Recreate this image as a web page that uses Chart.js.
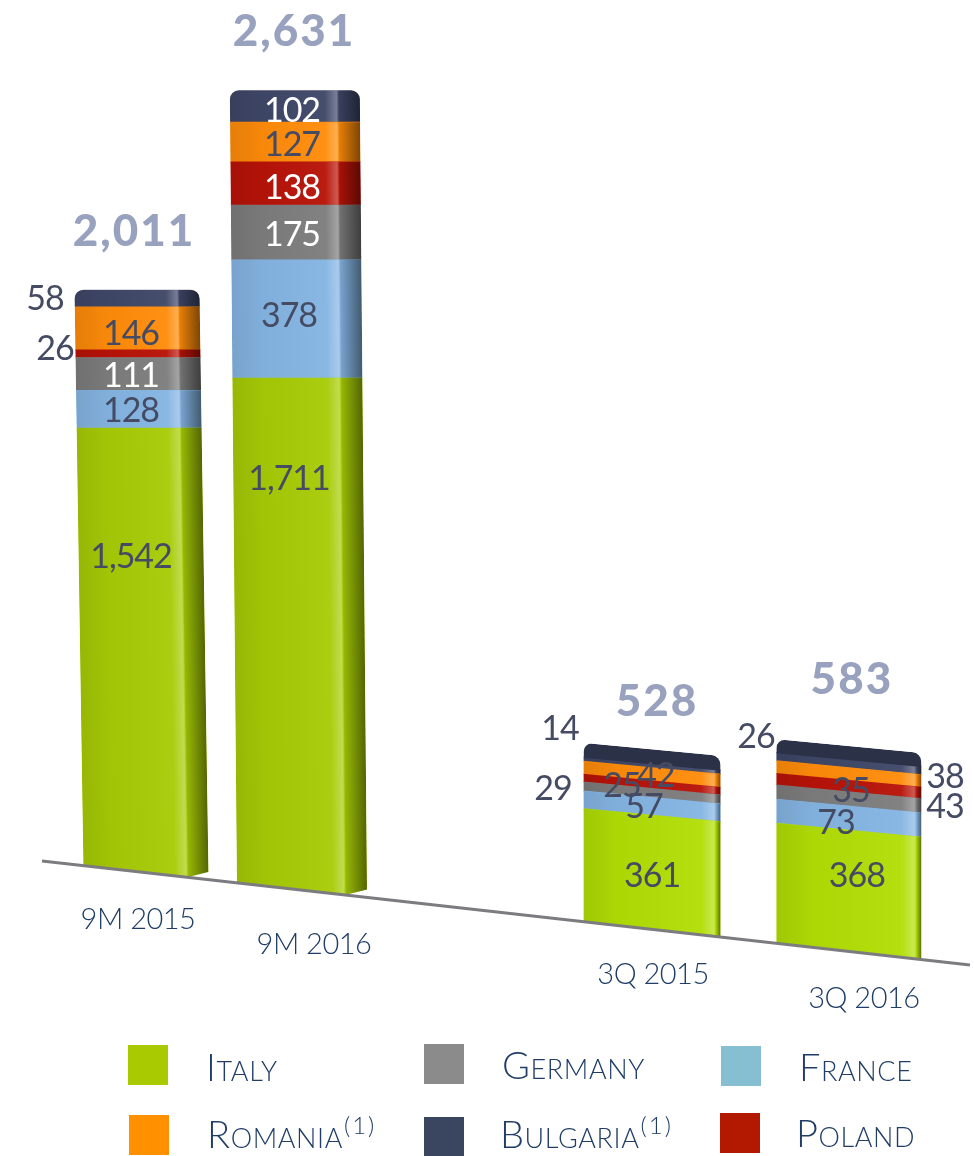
<!DOCTYPE html>
<html>
<head>
<meta charset="utf-8">
<style>
  body { margin: 0; background: #fff; }
  #wrap { position: relative; width: 974px; height: 1156px; overflow: hidden; }
  .swatch { position: absolute; width: 40px; height: 40px; }
  .name {
    position: absolute; font: 300 38px Lato, sans-serif; font-variant: small-caps;
    color: #1f3d66; white-space: nowrap; line-height: 40px; letter-spacing: 0.6px;
  }
  .name sup {
    font-size: 24px; line-height: 0; font-variant: normal; letter-spacing: 2px;
    vertical-align: 14px; margin-left: 1px;
  }
</style>
</head>
<body>
<div id="wrap"><canvas id="chart" width="974" height="1156"></canvas></div>
<script src="https://cdn.jsdelivr.net/npm/chart.js@4/dist/chart.umd.js"></script>
<script>
const categories = ['9M 2015', '9M 2016', '3Q 2015', '3Q 2016'];
const italy = [1542, 1711, 361, 368];
const france = [128, 378, 57, 73];
const germany = [111, 175, 29, 43];
const poland = [26, 138, 25, 35];
const romania = [146, 127, 42, 38];
const bulgaria = [58, 102, 14, 26];
const totals = [2011, 2631, 528, 583];

const seriesNames = ['Italy', 'France', 'Germany', 'Poland', 'Romania', 'Bulgaria'];
const seriesValues = [italy, france, germany, poland, romania, bulgaria];
// the green is lighter on the two 3Q bars
const seriesColors = [['#a7cc06', '#a7cc06', '#b2de05', '#b2de05'], '#85b5e3', '#7d7d7d', '#b81308', '#ff8c0a', '#3f4768'];

// the bars stand on a tilted floor, so each stack starts lower and is a bit stretched
const barSlots = [0, 1, 3.244, 4.506];
const stackBase = [-37, -139, -186, -270];
const stackStretch = [1, 1.06, 1.05, 1.12];
const floor = [{ x: -0.667, y: 37 }, { x: 5.282, y: -315 }];

const barWidths = [125, 130, 137, 145];
const sideShare = [0.17, 0.17, 0.04, 0.04];
const leanX = [0.0155, 0.009, 0, 0];
const leanY = [0, 0, 0.095, 0.095];
const topFace = [0, 0, 14, 13];
const underFloor = 60;

const labelNudge = [
  [[-15, -98], [-13, -166], [0, 5], [8, -15]],
  [[-15, 2], [-13, -3], [-8, 1], [-13, 5]],
  [[-15, 2], [-10, 3], [-99, -4], [96, 8]],
  [[-91, -5], [-10, 5], [-30, 1], [2, 5]],
  [[-15, 6], [-10, 3], [4, 2], [96, 3]],
  [[-101, 1], [-10, 5], [-92, -36], [-93, -26]],
];
const whiteLabels = ['2-0', '2-1', '3-1', '5-1'];
const totalNudge = [[-12, -58], [-8, -58], [5, -62], [3, -79]];
const categoryNudge = [[-8, 47], [12, 54], [1, 45], [15, 47]];

const legendItems = [
  { name: 'Italy', color: '#a9c900', box: [128, 1045], text: [206, 1046] },
  { name: 'Germany', color: '#8b8b8b', box: [424, 1044], text: [502, 1044] },
  { name: 'France', color: '#86bfd2', box: [721, 1046], text: [799, 1046] },
  { name: 'Romania', note: '(1)', color: '#ff9100', box: [129, 1115], text: [207, 1113] },
  { name: 'Bulgaria', note: '(1)', color: '#3a4560', box: [424, 1117], text: [500, 1113] },
  { name: 'Poland', color: '#b31900', box: [720, 1113], text: [796, 1112] },
];

const floatSeries = (values, s) => values.map((v, i) => {
  let start = stackBase[i];
  for (let k = 0; k < s; k++) start += seriesValues[k][i] * stackStretch[i];
  return { x: barSlots[i], y: [start, start + v * stackStretch[i]] };
});

const floorY = (chart, px) => {
  const { x, y } = chart.scales;
  const x0 = x.getPixelForValue(floor[0].x);
  const y0 = y.getPixelForValue(floor[0].y);
  const x1 = x.getPixelForValue(floor[1].x);
  const y1 = y.getPixelForValue(floor[1].y);
  return y0 + (y1 - y0) * (px - x0) / (x1 - x0);
};

const shade = (ctx, left, width, top, height, k) => {
  const f = 1 - k;
  const g = ctx.createLinearGradient(left, 0, left + width, 0);
  g.addColorStop(0, 'rgba(0,0,0,0.10)');
  g.addColorStop(0.25, 'rgba(0,0,0,0.03)');
  g.addColorStop(f - 0.1, 'rgba(255,255,255,0.04)');
  g.addColorStop(f - 0.01, 'rgba(255,255,255,0.3)');
  g.addColorStop(f, 'rgba(255,255,255,0.12)');
  g.addColorStop(Math.min(f + 0.01, 0.995), 'rgba(0,0,0,0.1)');
  g.addColorStop(1, 'rgba(0,0,0,0.5)');
  ctx.fillStyle = g;
  ctx.fillRect(left, top, width, height);
};

const bars3d = {
  id: 'bars3d',
  afterDatasetsUpdate(chart) {
    seriesNames.forEach((_, s) => {
      chart.getDatasetMeta(s).data.forEach((bar, i) => {
        bar.width = barWidths[i];
        // Italy runs on under the floor, the clip below cuts it off there.
        // a floating bar may swap y and base when its start is the larger number
        if (s === 0) {
          if (bar.y > bar.base) bar.y += underFloor;
          else bar.base += underFloor;
        }
      });
    });
  },
  beforeDatasetDraw(chart, args) {
    if (args.meta.type !== 'bar') return;
    const { ctx } = chart;
    const s = args.index;
    args.meta.data.forEach((bar, i) => {
      const left = bar.x - barWidths[i] / 2;
      const right = left + barWidths[i];
      const corner = right - barWidths[i] * sideShare[i];
      const py = floorY(chart, bar.x);
      const cy = floorY(chart, corner);
      const rise = sideShare[i] > 0.1 ? 13 : 0;
      const stackTop = chart.getDatasetMeta(5).data[i].y - topFace[i];

      ctx.save();
      ctx.beginPath();
      ctx.moveTo(0, 0);
      ctx.lineTo(974, 0);
      ctx.lineTo(974, cy - rise + 40 * leanY[i]);
      ctx.lineTo(right + 30, cy - rise);
      ctx.lineTo(corner, cy);
      ctx.lineTo(0, floorY(chart, 0));
      ctx.closePath();
      ctx.clip();

      ctx.transform(1, leanY[i], leanX[i], 1, -leanX[i] * py, -leanY[i] * bar.x);
      ctx.beginPath();
      ctx.roundRect(left, stackTop, barWidths[i], 1200, [9, 9, 0, 0]);
      ctx.clip();

      bar.draw(ctx);
      const top = Math.min(bar.y, bar.base);
      shade(ctx, left, barWidths[i], top, Math.abs(bar.base - bar.y) + 1, sideShare[i]);
      if (s === 5 && topFace[i] > 0) {
        ctx.fillStyle = '#2b3147';
        ctx.fillRect(left, stackTop, barWidths[i], topFace[i] + 1);
      }
      ctx.restore();
    });
    return false;
  },
  afterDatasetsDraw(chart) {
    const { ctx } = chart;
    ctx.save();
    ctx.textAlign = 'center';
    ctx.textBaseline = 'middle';

    ctx.font = '400 34px Lato, sans-serif';
    ctx.letterSpacing = '-1px';
    seriesValues.forEach((values, s) => {
      const meta = chart.getDatasetMeta(s);
      values.forEach((v, i) => {
        const bar = meta.data[i];
        const mid = (bar.y + bar.base - (s === 0 ? underFloor : 0)) / 2;
        ctx.fillStyle = whiteLabels.includes(s + '-' + i) ? '#ffffff' : '#454b63';
        ctx.fillText(v.toLocaleString('en-US'), bar.x + labelNudge[s][i][0], mid + labelNudge[s][i][1]);
      });
    });

    ctx.font = '900 44px Lato, sans-serif';
    ctx.letterSpacing = '2px';
    ctx.fillStyle = '#98a1bd';
    const tops = chart.getDatasetMeta(5).data;
    totals.forEach((v, i) => {
      ctx.fillText(v.toLocaleString('en-US'), tops[i].x + totalNudge[i][0], tops[i].y + totalNudge[i][1]);
    });

    ctx.font = '300 29px Lato, sans-serif';
    ctx.letterSpacing = '-0.5px';
    ctx.fillStyle = '#1f3d66';
    categories.forEach((c, i) => {
      const px = tops[i].x;
      ctx.fillText(c, px + categoryNudge[i][0], floorY(chart, px) + categoryNudge[i][1]);
    });
    ctx.restore();
  },
};

const datasets = seriesNames.map((name, s) => ({
  type: 'bar',
  label: name,
  backgroundColor: seriesColors[s],
  grouped: false,
  barThickness: 130,
  data: floatSeries(seriesValues[s], s),
}));
datasets.push({
  type: 'line',
  label: 'floor',
  order: -1,
  borderColor: '#7c7c80',
  borderWidth: 3,
  pointRadius: 0,
  data: floor,
});

new Chart(document.getElementById('chart'), {
  data: { datasets },
  plugins: [bars3d],
  options: {
    responsive: false,
    animation: false,
    layout: { padding: 0 },
    plugins: { legend: { display: false }, tooltip: { enabled: false } },
    scales: {
      x: { type: 'linear', display: false, min: -0.936, max: 5.308, offset: false },
      y: { type: 'linear', display: false, min: -962.7, max: 2955.9 },
    },
  },
});

const wrap = document.getElementById('wrap');
legendItems.forEach((item) => {
  const box = document.createElement('div');
  box.className = 'swatch';
  box.style.left = item.box[0] + 'px';
  box.style.top = item.box[1] + 'px';
  box.style.background = item.color;
  wrap.appendChild(box);

  const label = document.createElement('div');
  label.className = 'name';
  label.style.left = item.text[0] + 'px';
  label.style.top = item.text[1] + 'px';
  label.textContent = item.name;
  if (item.note) {
    const sup = document.createElement('sup');
    sup.textContent = item.note;
    label.appendChild(sup);
  }
  wrap.appendChild(label);
});
</script>
</body>
</html>
